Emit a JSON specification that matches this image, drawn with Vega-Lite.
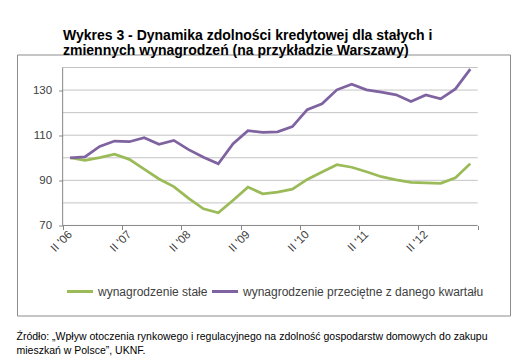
{
  "$schema": "https://vega.github.io/schema/vega-lite/v6.json",
  "background": "white",
  "padding": {"left": 16, "top": 28.5, "right": 0, "bottom": 0},
  "title": {
    "text": ["Źródło: „Wpływ otoczenia rynkowego i regulacyjnego na zdolność gospodarstw domowych do zakupu", "mieszkań w Polsce”, UKNF."],
    "orient": "bottom",
    "anchor": "start",
    "offset": 16,
    "font": "Liberation Sans",
    "fontSize": 10.5,
    "fontWeight": "normal",
    "color": "#000000",
    "lineHeight": 14
  },
  "datasets": {
    "pts": [
      {"i": 0, "q": "II '06", "s": "wynagrodzenie stałe", "v": 100},
      {"i": 1, "q": "III '06", "s": "wynagrodzenie stałe", "v": 98.9},
      {"i": 2, "q": "IV '06", "s": "wynagrodzenie stałe", "v": 100.1},
      {"i": 3, "q": "I '07", "s": "wynagrodzenie stałe", "v": 101.6},
      {"i": 4, "q": "II '07", "s": "wynagrodzenie stałe", "v": 99.3},
      {"i": 5, "q": "III '07", "s": "wynagrodzenie stałe", "v": 95},
      {"i": 6, "q": "IV '07", "s": "wynagrodzenie stałe", "v": 90.6},
      {"i": 7, "q": "I '08", "s": "wynagrodzenie stałe", "v": 87.2},
      {"i": 8, "q": "II '08", "s": "wynagrodzenie stałe", "v": 82},
      {"i": 9, "q": "III '08", "s": "wynagrodzenie stałe", "v": 77.4},
      {"i": 10, "q": "IV '08", "s": "wynagrodzenie stałe", "v": 75.6},
      {"i": 11, "q": "I '09", "s": "wynagrodzenie stałe", "v": 81.2},
      {"i": 12, "q": "II '09", "s": "wynagrodzenie stałe", "v": 87},
      {"i": 13, "q": "III '09", "s": "wynagrodzenie stałe", "v": 84},
      {"i": 14, "q": "IV '09", "s": "wynagrodzenie stałe", "v": 84.8},
      {"i": 15, "q": "I '10", "s": "wynagrodzenie stałe", "v": 86.1},
      {"i": 16, "q": "II '10", "s": "wynagrodzenie stałe", "v": 90.4},
      {"i": 17, "q": "III '10", "s": "wynagrodzenie stałe", "v": 93.7},
      {"i": 18, "q": "IV '10", "s": "wynagrodzenie stałe", "v": 96.9},
      {"i": 19, "q": "I '11", "s": "wynagrodzenie stałe", "v": 95.8},
      {"i": 20, "q": "II '11", "s": "wynagrodzenie stałe", "v": 93.8},
      {"i": 21, "q": "III '11", "s": "wynagrodzenie stałe", "v": 91.6},
      {"i": 22, "q": "IV '11", "s": "wynagrodzenie stałe", "v": 90.2},
      {"i": 23, "q": "I '12", "s": "wynagrodzenie stałe", "v": 89.1},
      {"i": 24, "q": "II '12", "s": "wynagrodzenie stałe", "v": 88.9},
      {"i": 25, "q": "III '12", "s": "wynagrodzenie stałe", "v": 88.7},
      {"i": 26, "q": "IV '12", "s": "wynagrodzenie stałe", "v": 91.1},
      {"i": 27, "q": "I '13", "s": "wynagrodzenie stałe", "v": 97.4},
      {"i": 0, "q": "II '06", "s": "wynagrodzenie przeciętne z danego kwartału", "v": 100},
      {"i": 1, "q": "III '06", "s": "wynagrodzenie przeciętne z danego kwartału", "v": 100.4},
      {"i": 2, "q": "IV '06", "s": "wynagrodzenie przeciętne z danego kwartału", "v": 105},
      {"i": 3, "q": "I '07", "s": "wynagrodzenie przeciętne z danego kwartału", "v": 107.4},
      {"i": 4, "q": "II '07", "s": "wynagrodzenie przeciętne z danego kwartału", "v": 107.1},
      {"i": 5, "q": "III '07", "s": "wynagrodzenie przeciętne z danego kwartału", "v": 108.9},
      {"i": 6, "q": "IV '07", "s": "wynagrodzenie przeciętne z danego kwartału", "v": 106},
      {"i": 7, "q": "I '08", "s": "wynagrodzenie przeciętne z danego kwartału", "v": 107.7},
      {"i": 8, "q": "II '08", "s": "wynagrodzenie przeciętne z danego kwartału", "v": 103.6},
      {"i": 9, "q": "III '08", "s": "wynagrodzenie przeciętne z danego kwartału", "v": 100.2},
      {"i": 10, "q": "IV '08", "s": "wynagrodzenie przeciętne z danego kwartału", "v": 97.3},
      {"i": 11, "q": "I '09", "s": "wynagrodzenie przeciętne z danego kwartału", "v": 106.2},
      {"i": 12, "q": "II '09", "s": "wynagrodzenie przeciętne z danego kwartału", "v": 112},
      {"i": 13, "q": "III '09", "s": "wynagrodzenie przeciętne z danego kwartału", "v": 111.3},
      {"i": 14, "q": "IV '09", "s": "wynagrodzenie przeciętne z danego kwartału", "v": 111.5},
      {"i": 15, "q": "I '10", "s": "wynagrodzenie przeciętne z danego kwartału", "v": 113.8},
      {"i": 16, "q": "II '10", "s": "wynagrodzenie przeciętne z danego kwartału", "v": 121.3},
      {"i": 17, "q": "III '10", "s": "wynagrodzenie przeciętne z danego kwartału", "v": 123.9},
      {"i": 18, "q": "IV '10", "s": "wynagrodzenie przeciętne z danego kwartału", "v": 130.1},
      {"i": 19, "q": "I '11", "s": "wynagrodzenie przeciętne z danego kwartału", "v": 132.6},
      {"i": 20, "q": "II '11", "s": "wynagrodzenie przeciętne z danego kwartału", "v": 130.1},
      {"i": 21, "q": "III '11", "s": "wynagrodzenie przeciętne z danego kwartału", "v": 129.1},
      {"i": 22, "q": "IV '11", "s": "wynagrodzenie przeciętne z danego kwartału", "v": 127.9},
      {"i": 23, "q": "I '12", "s": "wynagrodzenie przeciętne z danego kwartału", "v": 124.9},
      {"i": 24, "q": "II '12", "s": "wynagrodzenie przeciętne z danego kwartału", "v": 127.8},
      {"i": 25, "q": "III '12", "s": "wynagrodzenie przeciętne z danego kwartału", "v": 126.1},
      {"i": 26, "q": "IV '12", "s": "wynagrodzenie przeciętne z danego kwartału", "v": 130.5},
      {"i": 27, "q": "I '13", "s": "wynagrodzenie przeciętne z danego kwartału", "v": 139.3}
    ],
    "grid": [{"g": 80}, {"g": 90}, {"g": 100}, {"g": 110}, {"g": 120}, {"g": 130}, {"g": 140}]
  },
  "bounds": "flush",
  "spacing": 0,
  "vconcat": [
    {
      "title": {
        "text": ["Wykres 3 - Dynamika zdolności kredytowej dla stałych i", "zmiennych wynagrodzeń (na przykładzie Warszawy)"],
        "anchor": "start",
        "dx": 46,
        "offset": -3,
        "font": "Liberation Sans",
        "fontSize": 14,
        "fontWeight": "bold",
        "color": "#000000",
        "lineHeight": 14.5
      },
      "width": 493,
      "height": 261,
      "layer": [
        {
          "data": {"name": "grid"},
          "mark": {"type": "rule", "color": "#c4c4c4", "strokeWidth": 1},
          "encoding": {
            "y": {
              "field": "g", "type": "quantitative", "title": null,
              "scale": {"domain": [30.1, 145.76], "nice": false, "zero": false},
              "axis": {
                "values": [70, 80, 90, 100, 110, 120, 130, 140],
                "labelOverlap": false,
                "offset": -45.66
              }
            },
            "x": {
              "datum": -0.5, "type": "quantitative", "title": null,
              "scale": {"domain": [-3.58, 29.68], "nice": false, "zero": false},
              "axis": {
                "values": [-0.5, 0.5, 1.5, 2.5, 3.5, 4.5, 5.5, 6.5, 7.5, 8.5, 9.5, 10.5, 11.5, 12.5, 13.5, 14.5, 15.5, 16.5, 17.5, 18.5, 19.5, 20.5, 21.5, 22.5, 23.5, 24.5, 25.5, 26.5, 27.5],
                "labelExpr": "((datum.value + 0.5) % 2 == 0 && datum.value < 27) ? ((((datum.value + 0.5) / 2) % 2 == 0 ? 'II' : 'IV') + \" '\" + slice(toString(2006 + floor((datum.value + 1.5) / 4)), 2)) : ''",
                "labelAngle": -45,
                "labelOverlap": false,
                "offset": -90
              }
            },
            "x2": {"datum": 27.5}
          }
        },
        {
          "data": {"values": [{}]},
          "mark": {"type": "rule", "color": "#868686", "strokeWidth": 1},
          "encoding": {
            "y": {"datum": 70, "type": "quantitative"},
            "x": {"datum": -0.5, "type": "quantitative"},
            "x2": {"datum": 27.5}
          }
        },
        {
          "data": {"values": [{}]},
          "mark": {"type": "rule", "color": "#868686", "strokeWidth": 1},
          "encoding": {
            "x": {"datum": -0.5, "type": "quantitative"},
            "y": {"datum": 70, "type": "quantitative"},
            "y2": {"datum": 140}
          }
        },
        {
          "data": {"name": "pts"},
          "mark": {"type": "line", "strokeWidth": 2.75},
          "encoding": {
            "x": {"field": "i", "type": "quantitative", "title": null},
            "y": {"field": "v", "type": "quantitative", "title": null},
            "color": {
              "field": "s", "type": "nominal",
              "scale": {"domain": ["wynagrodzenie stałe", "wynagrodzenie przeciętne z danego kwartału"], "range": ["#9bbb59", "#7f63a1"]},
              "legend": {
                "orient": "none",
                "legendX": 48,
                "legendY": 222,
                "direction": "horizontal",
                "title": null
              }
            }
          }
        }
      ]
    }
  ],
  "config": {
    "view": {"stroke": "#8c8c8c", "strokeWidth": 1},
    "title": {"font": "Liberation Sans"},
    "axis": {
      "labelOverlap": false,
      "labelFont": "Liberation Sans",
      "labelFontSize": 11.5,
      "labelColor": "#404040",
      "tickSize": 4,
      "tickColor": "#868686",
      "domain": false,
      "grid": false
    },
    "axisX": {
      "labelAngle": -45,
      "labelAlign": "right",
      "labelBaseline": "middle",
      "labelOffset": 7.4,
      "labelPadding": 3,
      "labelOverlap": false,
      "labelBound": false,
      "labelFlush": false
    },
    "axisY": {
      "labelPadding": 7,
      "labelOverlap": false
    },
    "legend": {
      "symbolType": "stroke",
      "symbolSize": 680,
      "symbolStrokeWidth": 3,
      "labelFont": "Liberation Sans",
      "labelFontSize": 12,
      "labelColor": "#404040",
      "labelOffset": 3,
      "labelLimit": 0,
      "columnPadding": -3,
      "padding": 0
    }
  }
}
